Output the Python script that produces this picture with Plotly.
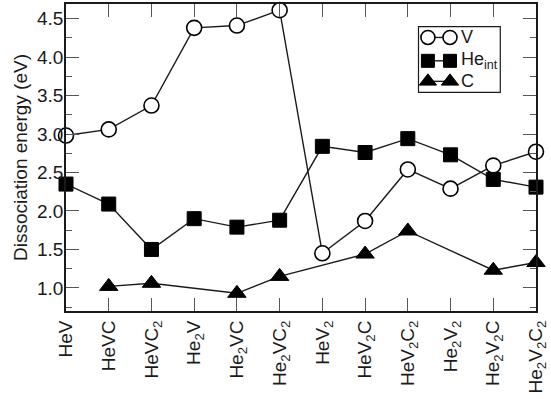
import plotly.graph_objects as go

categories = ["HeV", "HeVC", "HeVC<sub>2</sub>", "He<sub>2</sub>V", "He<sub>2</sub>VC",
              "He<sub>2</sub>VC<sub>2</sub>", "HeV<sub>2</sub>", "HeV<sub>2</sub>C",
              "HeV<sub>2</sub>C<sub>2</sub>", "He<sub>2</sub>V<sub>2</sub>",
              "He<sub>2</sub>V<sub>2</sub>C", "He<sub>2</sub>V<sub>2</sub>C<sub>2</sub>"]
v_energy = [2.98, 3.06, 3.37, 4.38, 4.41, 4.61, 1.45, 1.87, 2.54, 2.29, 2.59, 2.77]
he_int_energy = [2.35, 2.09, 1.50, 1.90, 1.79, 1.88, 2.84, 2.76, 2.94, 2.73, 2.41, 2.31]
c_energy = [None, 1.02, 1.06, None, 0.93, 1.15, None, 1.44, 1.74, None, 1.23, 1.33]
y_ticks = [1.0, 1.5, 2.0, 2.5, 3.0, 3.5, 4.0, 4.5]

xpos = list(range(len(categories)))
FONT = "Liberation Sans, Arial, sans-serif"
INK = "#1a1a1a"

series = [
    ("V", v_energy, dict(symbol="circle", size=15, color="white", line=dict(width=1.6, color="black"))),
    ("He<sub>int</sub>", he_int_energy, dict(symbol="square", size=14, color="black", line=dict(width=1, color="black"))),
    ("C", c_energy, dict(symbol="triangle-up", size=16, color="black", line=dict(width=1, color="black"))),
]

fig = go.Figure()
for name, vals, mk in series:
    fig.add_trace(go.Scatter(x=xpos, y=vals, mode="lines+markers", name=name,
                             connectgaps=True, cliponaxis=False,
                             line=dict(color=INK, width=1.4), marker=mk, showlegend=False))

# legend box drawn on an overlay axis spanning the plot area
leg_rows = [0.891, 0.815, 0.748]
for (name, vals, mk), yy in zip(series, leg_rows):
    m = dict(mk)
    m["size"] = m["size"] - 1
    fig.add_trace(go.Scatter(x=[0.770, 0.817], y=[yy, yy], mode="lines+markers",
                             xaxis="x2", yaxis="y2", cliponaxis=False, showlegend=False,
                             line=dict(color=INK, width=1.4), marker=m, hoverinfo="skip"))
    fig.add_annotation(x=0.836, y=yy, xref="x2", yref="y2", text=name, showarrow=False,
                       xanchor="left", yanchor="middle",
                       font=dict(family=FONT, size=18, color=INK))

fig.add_shape(type="rect", xref="x2", yref="y2", x0=0.750, x1=0.924, y0=0.712, y1=0.926,
              line=dict(color=INK, width=1.2), fillcolor="rgba(0,0,0,0)")

fig.update_layout(
    width=551, height=399,
    margin=dict(l=66, r=9, t=2, b=88),
    plot_bgcolor="white", paper_bgcolor="white",
    font=dict(family=FONT, size=18, color=INK),
    xaxis=dict(range=[0, 11], tickmode="array", tickvals=xpos, ticktext=categories,
               tickangle=-90, ticks="inside", ticklen=13, tickwidth=1.2, tickcolor="#555",
               showline=True, linecolor=INK, linewidth=1.8, mirror="ticks",
               showgrid=False, zeroline=False, ticklabeloverflow="allow",
               tickfont=dict(family=FONT, size=19, color=INK)),
    yaxis=dict(range=[0.70, 4.69], tickmode="array", tickvals=y_ticks,
               ticktext=[f"{t:.1f}" for t in y_ticks],
               ticks="inside", ticklen=13, tickwidth=1.2, tickcolor="#555",
               minor=dict(ticks="inside", ticklen=6, dtick=0.25, tick0=0, tickcolor="#555", tickwidth=1.2),
               showline=True, linecolor=INK, linewidth=1.8, mirror="ticks",
               showgrid=False, zeroline=False, ticklabelstandoff=-3,
               title=dict(text="Dissociation energy (eV)", standoff=4,
                          font=dict(family=FONT, size=19, color=INK)),
               tickfont=dict(family=FONT, size=19, color=INK)),
    xaxis2=dict(range=[0, 1], overlaying="x", visible=False, fixedrange=True),
    yaxis2=dict(range=[0, 1], overlaying="y", visible=False, fixedrange=True),
)

fig.write_html("out.html")
